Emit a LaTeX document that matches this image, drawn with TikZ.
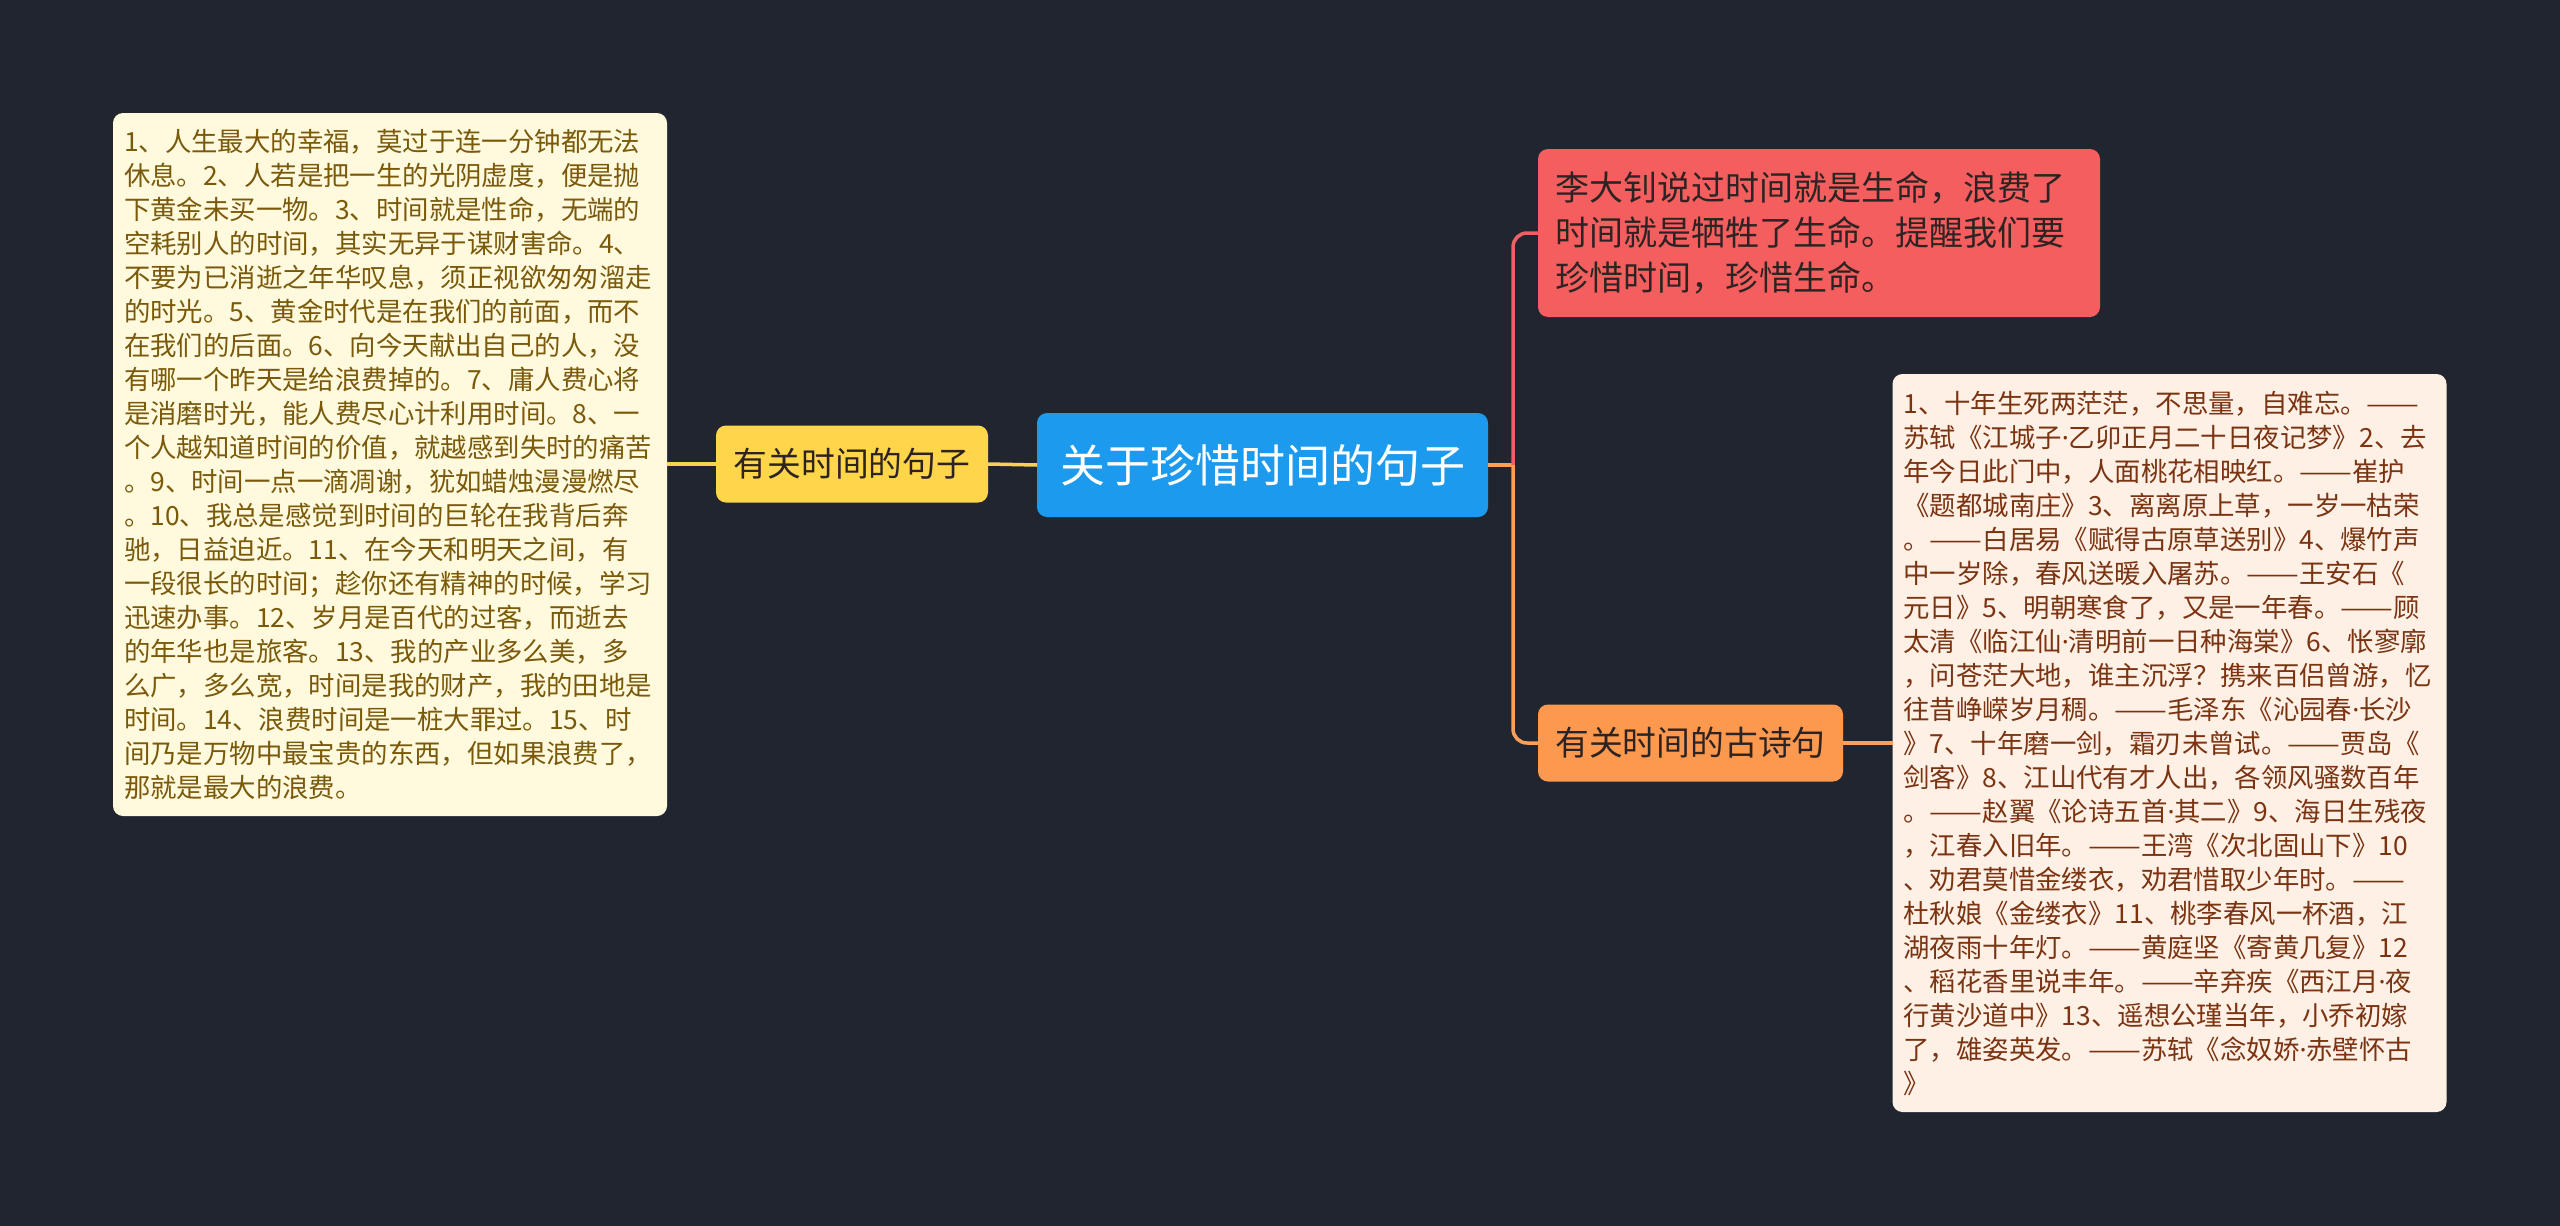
\documentclass[tikz,border=0pt]{standalone}
\usepackage{fontspec}
\usepackage{graphicx}
\newfontfamily\cjk{Noto Sans CJK SC}
\newfontfamily\latinf{Noto Sans}
\setmainfont{Noto Sans CJK SC}
\newcommand\dd{\resizebox{2em}{\height}{——}}
\newcommand\md{{\latinf ·}}
\exhyphenpenalty=10000
\hyphenpenalty=10000
\definecolor{bgc}{RGB}{33,37,48}
\definecolor{bluec}{RGB}{28,154,238}
\definecolor{yellowc}{RGB}{255,214,74}
\definecolor{creamc}{RGB}{255,249,222}
\definecolor{creamtext}{RGB}{122,90,10}
\definecolor{redc}{RGB}{245,94,94}
\definecolor{orangec}{RGB}{253,153,78}
\definecolor{peachc}{RGB}{255,240,230}
\definecolor{peachtext}{RGB}{122,52,18}
\definecolor{redline}{RGB}{238,96,102}
\definecolor{orangeline}{RGB}{249,160,90}
\definecolor{yellowline}{RGB}{247,210,80}
\definecolor{darktext}{RGB}{45,35,35}
\begin{document}
\begin{tikzpicture}[x=0.5pt,y=-0.5pt,
  box/.style={rounded corners=5pt, inner sep=0pt, outer sep=0pt},
  rootbox/.style={box, fill=bluec, text=white, minimum width=225.5pt, minimum height=52pt, font=\cjk\fontsize{22.5pt}{27pt}\selectfont},
  branchbox/.style={box, minimum height=38.5pt, font=\cjk\fontsize{16.9pt}{21pt}\selectfont, text=darktext},
  leafbox/.style={box, align=left, text width=266pt, inner xsep=5.5pt, font=\cjk\fontsize{13.2pt}{17pt}\selectfont},
  conn/.style={line width=1.75pt},
]
\useasboundingbox (0,0) rectangle (2560,1226);
\fill[bgc] (0,0) rectangle (2560,1226);

% root
\node[rootbox] (root) at (1262.5,465) {关于珍惜时间的句子};

% left branch
\node[branchbox, fill=yellowc, minimum width=136pt] (yb) at (852,464) {有关时间的句子};
\node[leafbox, fill=creamc, text=creamtext, minimum height=351.5pt] (lbox) at (390,464.5) {%
1、人生最大的幸福，莫过于连一分钟都无法\\
休息。2、人若是把一生的光阴虚度，便是抛\\
下黄金未买一物。3、时间就是性命，无端的\\
空耗别人的时间，其实无异于谋财害命。4、\\
不要为已消逝之年华叹息，须正视欲匆匆溜走\\
的时光。5、黄金时代是在我们的前面，而不\\
在我们的后面。6、向今天献出自己的人，没\\
有哪一个昨天是给浪费掉的。7、庸人费心将\\
是消磨时光，能人费尽心计利用时间。8、一\\
个人越知道时间的价值，就越感到失时的痛苦\\
。9、时间一点一滴凋谢，犹如蜡烛漫漫燃尽\\
。10、我总是感觉到时间的巨轮在我背后奔\\
驰，日益迫近。11、在今天和明天之间，有\\
一段很长的时间；趁你还有精神的时候，学习\\
迅速办事。12、岁月是百代的过客，而逝去\\
的年华也是旅客。13、我的产业多么美，多\\
么广，多么宽，时间是我的财产，我的田地是\\
时间。14、浪费时间是一桩大罪过。15、时\\
间乃是万物中最宝贵的东西，但如果浪费了，\\
那就是最大的浪费。};

% right branches
\node[box, fill=redc, text=darktext, align=left, text width=264pt, inner xsep=8.5pt, minimum height=84pt, font=\cjk\fontsize{17pt}{22.5pt}\selectfont] (rb) at (1819,233) {%
李大钊说过时间就是生命，浪费了\\
时间就是牺牲了生命。提醒我们要\\
珍惜时间，珍惜生命。};

\node[branchbox, fill=orangec, minimum width=152.5pt] (ob) at (1690.5,743) {有关时间的古诗句};

\node[leafbox, fill=peachc, text=peachtext, minimum height=369pt] (pbox) at (2169.5,743) {%
1、十年生死两茫茫，不思量，自难忘。\dd\\
苏轼《江城子\md 乙卯正月二十日夜记梦》2、去\\
年今日此门中，人面桃花相映红。\dd 崔护\\
《题都城南庄》3、离离原上草，一岁一枯荣\\
。\dd 白居易《赋得古原草送别》4、爆竹声\\
中一岁除，春风送暖入屠苏。\dd 王安石《\\
元日》5、明朝寒食了，又是一年春。\dd 顾\\
太清《临江仙\md 清明前一日种海棠》6、怅寥廓\\
，问苍茫大地，谁主沉浮？携来百侣曾游，忆\\
往昔峥嵘岁月稠。\dd 毛泽东《沁园春\md 长沙\\
》7、十年磨一剑，霜刃未曾试。\dd 贾岛《\\
剑客》8、江山代有才人出，各领风骚数百年\\
。\dd 赵翼《论诗五首\md 其二》9、海日生残夜\\
，江春入旧年。\dd 王湾《次北固山下》10\\
、劝君莫惜金缕衣，劝君惜取少年时。\dd\\
杜秋娘《金缕衣》11、桃李春风一杯酒，江\\
湖夜雨十年灯。\dd 黄庭坚《寄黄几复》12\\
、稻花香里说丰年。\dd 辛弃疾《西江月\md 夜\\
行黄沙道中》13、遥想公瑾当年，小乔初嫁\\
了，雄姿英发。\dd 苏轼《念奴娇\md 赤壁怀古\\
》};

% connectors
\coordinate (split) at ([xshift=12.5pt]root.east);
\draw[conn, yellowline] (root.west) -- (yb.east);
\draw[conn, yellowline] (yb.west) -- (lbox.east |- yb.west);
\draw[conn, orangeline] (root.east) -- (split);
\draw[conn, redline, rounded corners=7pt] (split) |- (rb.west);
\draw[conn, orangeline, rounded corners=7pt] (split) |- (ob.west);
\draw[conn, orangeline] (ob.east) -- (pbox.west |- ob.east);
\end{tikzpicture}
\end{document}
